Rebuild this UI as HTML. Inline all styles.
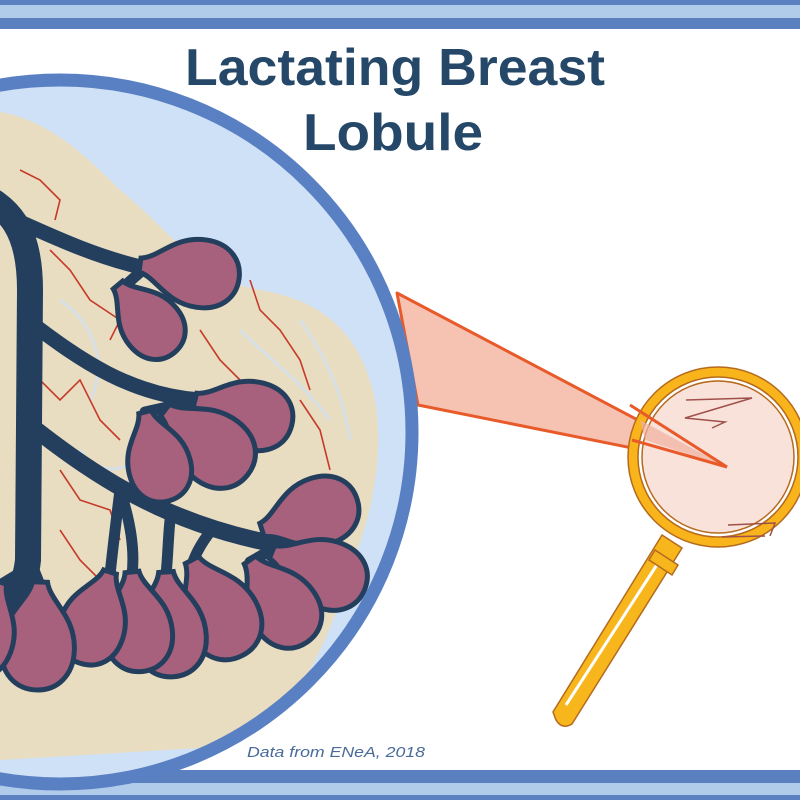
<!DOCTYPE html>
<html><head><meta charset="utf-8"><style>html,body{margin:0;padding:0;background:#fff}svg{display:block}</style></head>
<body>
<svg width="800" height="800" viewBox="0 0 800 800" xmlns="http://www.w3.org/2000/svg">
<defs>
<clipPath id="c"><circle cx="60" cy="432" r="352"/></clipPath>
<path id="td" d="M0,-0.07 C0.18,-0.1 0.3,-0.34 0.62,-0.34 C0.86,-0.34 1,-0.19 1,0 C1,0.19 0.86,0.34 0.62,0.34 C0.3,0.34 0.18,0.1 0,0.07Z"/>
</defs>
<rect width="800" height="800" fill="#fff"/>
<rect x="0" y="0" width="800" height="5" fill="#5a80c0"/>
<rect x="0" y="5" width="800" height="13" fill="#b1cbea"/>
<rect x="0" y="18" width="800" height="11" fill="#5a80c0"/>
<rect x="0" y="770" width="800" height="13" fill="#5a80c0"/>
<rect x="0" y="783" width="800" height="12" fill="#b1cbea"/>
<rect x="0" y="795" width="800" height="5" fill="#5a80c0"/>

<polygon points="397,293 727,467 418,405" fill="#f6c3b2" stroke="#e85a2a" stroke-width="3" stroke-linejoin="round"/>

<circle cx="60" cy="432" r="352" fill="#cfe1f6"/>
<g clip-path="url(#c)">
  <path d="M0,112 C50,120 90,160 120,190 C170,230 200,280 260,290 C320,300 360,330 375,400 C385,460 370,520 350,570 C330,640 300,700 250,745 L0,760 Z" fill="#efdcb4" opacity="0.8"/>
  <g fill="none" stroke="#cfe1f6" stroke-width="3" opacity="0.7">
    <path d="M60,300 C90,320 110,360 90,400"/><path d="M240,330 C270,360 300,380 330,420"/>
    <path d="M80,450 C100,480 130,470 150,450"/><path d="M300,320 C320,350 340,380 350,440"/>
  </g>
  <g fill="none" stroke="#c63a2a" stroke-width="1.6">
    <path d="M20,170 L40,180 L60,200 L55,220"/>
    <path d="M50,250 L70,270 L90,300 L120,320 L110,340"/>
    <path d="M40,380 L60,400 L80,380 L100,420 L120,440"/>
    <path d="M60,470 L80,500 L110,510 L120,540"/>
    <path d="M250,280 L260,310 L280,330 L300,360 L310,390"/>
    <path d="M200,330 L220,360 L240,380"/>
    <path d="M60,530 L80,560 L100,580 L110,600"/>
    <path d="M300,400 L320,430 L330,470"/>
  </g>
  <g fill="none" stroke="#243f5e" stroke-linecap="round">
    <path d="M-30,190 C10,205 30,230 30,290 L28,560 C25,590 10,610 -10,630" stroke-width="26"/>
    <path d="M20,222 C60,240 100,258 145,268" stroke-width="15"/>
    <path d="M30,322 C80,360 130,395 200,400" stroke-width="15"/>
    <path d="M30,425 C100,480 170,525 280,545" stroke-width="17"/>
    <path d="M120,490 C130,520 135,550 132,575 M120,490 C115,530 112,555 110,575 M170,520 C168,540 168,555 166,575 M210,532 C200,545 195,555 192,565 M30,560 L40,585 M25,570 L0,585 M145,268 L120,290 M200,400 L165,412 M190,402 L145,412 M280,545 L250,562" stroke-width="11"/>
  </g>
  <g fill="#a8617c" stroke="#243f5e">
    <use href="#td" stroke-width="0.05" transform="translate(140,265) rotate(8) scale(100)"/>
    <use href="#td" stroke-width="0.057" transform="translate(118,285) rotate(50) scale(88)"/>
    <use href="#td" stroke-width="0.05" transform="translate(195,400) rotate(15) scale(100)"/>
    <use href="#td" stroke-width="0.048" transform="translate(165,410) rotate(38) scale(105)"/>
    <use href="#td" stroke-width="0.054" transform="translate(145,412) rotate(75) scale(92)"/>
    <use href="#td" stroke-width="0.05" transform="translate(262,530) rotate(-18) scale(100)"/>
    <use href="#td" stroke-width="0.05" transform="translate(272,552) rotate(22) scale(100)"/>
    <use href="#td" stroke-width="0.05" transform="translate(250,560) rotate(55) scale(100)"/>
    <use href="#td" stroke-width="0.046" transform="translate(192,560) rotate(62) scale(108)"/>
    <use href="#td" stroke-width="0.048" transform="translate(166,572) rotate(86) scale(105)"/>
    <use href="#td" stroke-width="0.05" transform="translate(132,572) rotate(84) scale(100)"/>
    <use href="#td" stroke-width="0.052" transform="translate(110,572) rotate(108) scale(96)"/>
    <use href="#td" stroke-width="0.046" transform="translate(40,582) rotate(92) scale(108)"/>
    <use href="#td" stroke-width="0.05" transform="translate(0,582) rotate(110) scale(100)"/>
  </g>
</g>
<circle cx="60" cy="432" r="352" fill="none" stroke="#5a80c4" stroke-width="13"/>

<g stroke="#b56a1e" stroke-width="1.5">
  <path d="M662,535 L682,548 L572,724 Q562,730 556,720 L553,712 Z" fill="#f6b61c"/>
  <path d="M566,705 L660,560" stroke="#fff" stroke-width="3"/>
  <path d="M655,550 L678,565 L672,575 L649,560 Z" fill="#f6b61c"/>
  <circle cx="718" cy="457" r="90" fill="#f8b41a"/>
  <circle cx="718" cy="457" r="80" fill="#fff"/>
  <circle cx="718" cy="457" r="76" fill="#f8e2da"/>
</g>
<polygon points="640,420 727,467 645,440" fill="#f1b1a0" opacity="0.7"/>
<path d="M630,405 L727,467" stroke="#e85a2a" stroke-width="3"/>
<path d="M632,440 L727,467" stroke="#e85a2a" stroke-width="3"/>
<path d="M686,400 L752,398 L685,418 L725,422 L712,428" fill="none" stroke="#a0504a" stroke-width="1.5"/>
<path d="M728,525 L775,523 L770,536 M722,537 L765,536" fill="none" stroke="#a0504a" stroke-width="1.5"/>

<text x="395" y="85" font-family="Liberation Sans, sans-serif" font-weight="bold" font-size="52" fill="#254869" text-anchor="middle" textLength="420" lengthAdjust="spacingAndGlyphs">Lactating Breast</text>
<text x="393" y="150" font-family="Liberation Sans, sans-serif" font-weight="bold" font-size="52" fill="#254869" text-anchor="middle" textLength="180" lengthAdjust="spacingAndGlyphs">Lobule</text>
<text x="247" y="757" font-family="Liberation Sans, sans-serif" font-style="italic" font-size="15" fill="#4a6a9a" textLength="178" lengthAdjust="spacingAndGlyphs">Data from ENeA, 2018</text>
</svg>
</body></html>
